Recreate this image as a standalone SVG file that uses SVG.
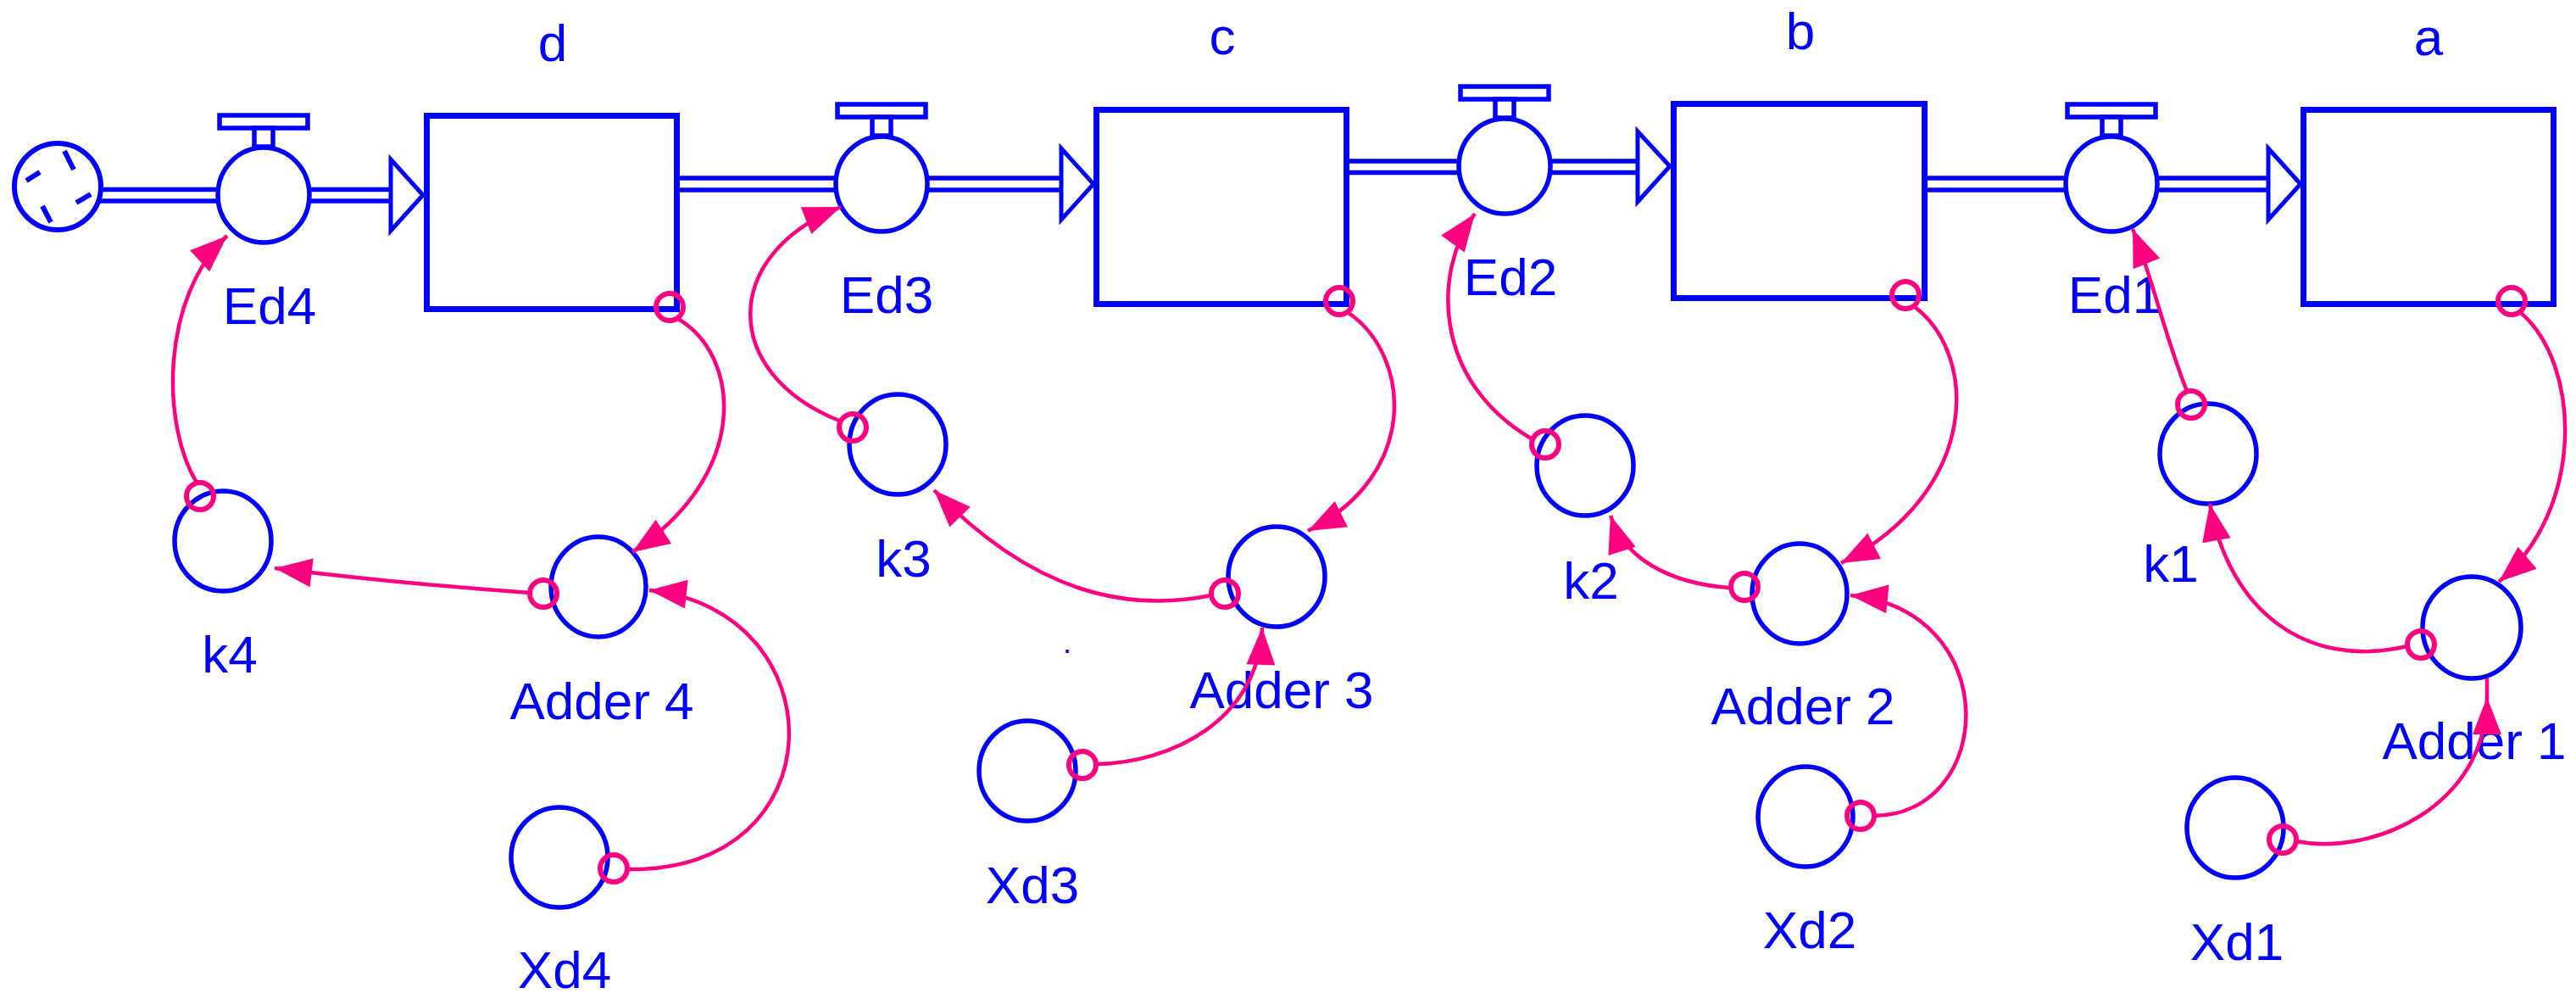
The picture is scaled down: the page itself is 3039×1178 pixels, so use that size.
<svg xmlns="http://www.w3.org/2000/svg" width="3039" height="1178" viewBox="0 0 3039 1178">
<style>
.bg{fill:#fff}
.pipe{stroke:#0000FF;stroke-width:5.5;fill:none}
.head{fill:#fff;stroke:#0000FF;stroke-width:5;stroke-linejoin:miter}
.box{fill:#fff;stroke:#0000FF;stroke-width:7}
.valve{fill:#fff;stroke:#0000FF;stroke-width:5.5}
.aux{fill:#fff;stroke:#0000FF;stroke-width:5.5}
.cloud{fill:#fff;stroke:#0000FF;stroke-width:6}
.tick{fill:none;stroke:#0000FF;stroke-width:6}
.lbl{font-family:"Liberation Sans",Arial,sans-serif;font-size:62px;fill:#0000FF;text-anchor:middle}
.link{fill:none;stroke:#FF0080;stroke-width:4.5}
.org{fill:none;stroke:#FF0080;stroke-width:6}
</style>
<defs>
<marker id="ah" markerUnits="userSpaceOnUse" viewBox="-48 -22 52 44" markerWidth="52" markerHeight="44" refX="0" refY="0" orient="auto">
<path d="M0,0 L-44,-17 L-44,17 Z" fill="#FF0080"/>
</marker>
</defs>
<rect class="bg" x="0" y="0" width="3039" height="1178"/>

<g id="flows">
<line class="pipe" x1="118" y1="223.5" x2="258" y2="223.5"/>
<line class="pipe" x1="118" y1="237" x2="258" y2="237"/>
<line class="pipe" x1="364" y1="223.5" x2="461" y2="223.5"/>
<line class="pipe" x1="364" y1="237" x2="461" y2="237"/>
<polygon class="head" points="461,188 499,230 461,272"/>

<line class="pipe" x1="802" y1="210" x2="986" y2="210"/>
<line class="pipe" x1="802" y1="224" x2="986" y2="224"/>
<line class="pipe" x1="1094" y1="210" x2="1252" y2="210"/>
<line class="pipe" x1="1094" y1="224" x2="1252" y2="224"/>
<polygon class="head" points="1252,175 1290,217 1252,259"/>

<line class="pipe" x1="1592" y1="190" x2="1721" y2="190"/>
<line class="pipe" x1="1592" y1="203.5" x2="1721" y2="203.5"/>
<line class="pipe" x1="1829" y1="190" x2="1932" y2="190"/>
<line class="pipe" x1="1829" y1="203.5" x2="1932" y2="203.5"/>
<polygon class="head" points="1932,155 1970,196 1932,238"/>

<line class="pipe" x1="2274" y1="210" x2="2438" y2="210"/>
<line class="pipe" x1="2274" y1="224" x2="2438" y2="224"/>
<line class="pipe" x1="2544" y1="210" x2="2676" y2="210"/>
<line class="pipe" x1="2544" y1="224" x2="2676" y2="224"/>
<polygon class="head" points="2676,175 2714,217 2676,259"/>
</g>

<g id="cloud">
<circle class="cloud" cx="68" cy="220" r="51"/>
<path class="tick" d="M76,178 L87,200 M47,203 L31,213 M107,229 L90,239 M50,243 L60,262"/>
</g>

<g id="stock-d">
<rect class="box" x="503.5" y="136.5" width="295" height="228"/>
<text class="lbl" x="652" y="72">d</text>
</g>
<g id="stock-c">
<rect class="box" x="1293.5" y="129.5" width="295" height="229"/>
<text class="lbl" x="1442" y="64">c</text>
</g>
<g id="stock-b">
<rect class="box" x="1974.5" y="122.5" width="296" height="229"/>
<text class="lbl" x="2124" y="58">b</text>
</g>
<g id="stock-a">
<rect class="box" x="2717.5" y="129.5" width="295" height="229"/>
<text class="lbl" x="2865" y="65">a</text>
</g>

<g id="valve-Ed4">
<rect class="valve" x="259" y="136" width="104" height="15"/>
<rect class="valve" x="300" y="151" width="22" height="22"/>
<ellipse class="valve" cx="311" cy="230" rx="54" ry="56"/>
<text class="lbl" x="318" y="382">Ed4</text>
</g>
<g id="valve-Ed3">
<rect class="valve" x="988" y="123" width="104" height="15"/>
<rect class="valve" x="1029" y="138" width="22" height="22"/>
<ellipse class="valve" cx="1040" cy="217" rx="54" ry="56"/>
<text class="lbl" x="1046" y="369">Ed3</text>
</g>
<g id="valve-Ed2">
<rect class="valve" x="1723" y="102" width="104" height="15"/>
<rect class="valve" x="1764" y="117" width="22" height="22"/>
<ellipse class="valve" cx="1775" cy="196" rx="54" ry="56"/>
<text class="lbl" x="1782" y="348">Ed2</text>
</g>
<g id="valve-Ed1">
<rect class="valve" x="2439" y="123" width="104" height="15"/>
<rect class="valve" x="2480" y="138" width="22" height="22"/>
<ellipse class="valve" cx="2491" cy="217" rx="54" ry="56"/>
<text class="lbl" x="2495" y="369">Ed1</text>
</g>

<g id="aux-k4"><ellipse class="aux" cx="263" cy="638" rx="57" ry="59"/><text class="lbl" x="271" y="793">k4</text></g>
<g id="aux-Adder4"><ellipse class="aux" cx="706" cy="692" rx="56" ry="59"/><text class="lbl" x="710" y="848">Adder 4</text></g>
<g id="aux-Xd4"><ellipse class="aux" cx="660" cy="1011" rx="57" ry="59"/><text class="lbl" x="666" y="1165">Xd4</text></g>

<g id="aux-k3"><ellipse class="aux" cx="1059" cy="524" rx="57" ry="59"/><text class="lbl" x="1066" y="680">k3</text></g>
<g id="aux-Adder3"><ellipse class="aux" cx="1506" cy="680" rx="57" ry="59"/><text class="lbl" x="1512" y="835">Adder 3</text></g>
<g id="aux-Xd3"><ellipse class="aux" cx="1212" cy="909" rx="57" ry="59"/><text class="lbl" x="1218" y="1065">Xd3</text></g>

<g id="aux-k2"><ellipse class="aux" cx="1870" cy="549" rx="57" ry="59"/><text class="lbl" x="1877" y="706">k2</text></g>
<g id="aux-Adder2"><ellipse class="aux" cx="2123" cy="700" rx="56" ry="59"/><text class="lbl" x="2127" y="854">Adder 2</text></g>
<g id="aux-Xd2"><ellipse class="aux" cx="2130" cy="963" rx="56" ry="59"/><text class="lbl" x="2135" y="1118">Xd2</text></g>

<g id="aux-k1"><ellipse class="aux" cx="2605" cy="535" rx="57" ry="59"/><text class="lbl" x="2561" y="686">k1</text></g>
<g id="aux-Adder1"><ellipse class="aux" cx="2916" cy="740" rx="58" ry="60"/><text class="lbl" x="2919" y="895">Adder 1</text></g>
<g id="aux-Xd1"><ellipse class="aux" cx="2637" cy="976" rx="57" ry="59"/><text class="lbl" x="2639" y="1132">Xd1</text></g>

<g id="stray-dot"><text x="1259" y="770" style="font-family:'Liberation Sans',Arial,sans-serif;font-size:36px;fill:#0000FF;text-anchor:middle">.</text></g>

<g id="connectors">
<path class="link" marker-end="url(#ah)" d="M800,376 C875,420 885,560 746,651"/>
<path class="link" marker-end="url(#ah)" d="M625,699 Q470,688 324,670"/>
<path class="link" marker-end="url(#ah)" d="M232,569 C190,500 190,350 268,278"/>
<path class="link" marker-end="url(#ah)" d="M740,1025 C990,1030 990,720 766,696"/>

<path class="link" marker-end="url(#ah)" d="M1591,369 C1665,420 1675,560 1543,626"/>
<path class="link" marker-end="url(#ah)" d="M1429,702 C1330,722 1220,700 1102,578"/>
<path class="link" marker-end="url(#ah)" d="M990,496 C850,440 850,300 992,244"/>
<path class="link" marker-end="url(#ah)" d="M1293,901 C1380,900 1485,850 1489,740"/>

<path class="link" marker-end="url(#ah)" d="M2259,362 C2335,420 2335,580 2172,664"/>
<path class="link" marker-end="url(#ah)" d="M2042,693 C1990,690 1920,670 1900,608"/>
<path class="link" marker-end="url(#ah)" d="M1808,518 C1690,450 1690,320 1740,252"/>
<path class="link" marker-end="url(#ah)" d="M2211,962 C2355,960 2365,720 2183,702"/>

<path class="link" marker-end="url(#ah)" d="M2974,369 C3045,430 3050,600 2948,686"/>
<path class="link" marker-end="url(#ah)" d="M2840,762 C2720,790 2630,720 2607,594"/>
<path class="link" marker-end="url(#ah)" d="M2580,461 C2555,400 2540,330 2516,270"/>
<path class="link" marker-end="url(#ah)" d="M2709,992 C2800,1010 2934,950 2934,822"/>
<path class="link" d="M2934,824 L2934,800"/>

<circle class="org" cx="790" cy="362" r="16"/>
<circle class="org" cx="236" cy="585" r="16"/>
<circle class="org" cx="641" cy="700" r="16"/>
<circle class="org" cx="724" cy="1024" r="16"/>
<circle class="org" cx="1580" cy="355" r="16"/>
<circle class="org" cx="1006" cy="504" r="16"/>
<circle class="org" cx="1445" cy="700" r="16"/>
<circle class="org" cx="1277" cy="902" r="16"/>
<circle class="org" cx="2248" cy="348" r="16"/>
<circle class="org" cx="1823" cy="524" r="16"/>
<circle class="org" cx="2058" cy="692" r="16"/>
<circle class="org" cx="2195" cy="962" r="16"/>
<circle class="org" cx="2963" cy="355" r="16"/>
<circle class="org" cx="2585" cy="477" r="16"/>
<circle class="org" cx="2856" cy="760" r="16"/>
<circle class="org" cx="2693" cy="990" r="16"/>
</g>
</svg>
